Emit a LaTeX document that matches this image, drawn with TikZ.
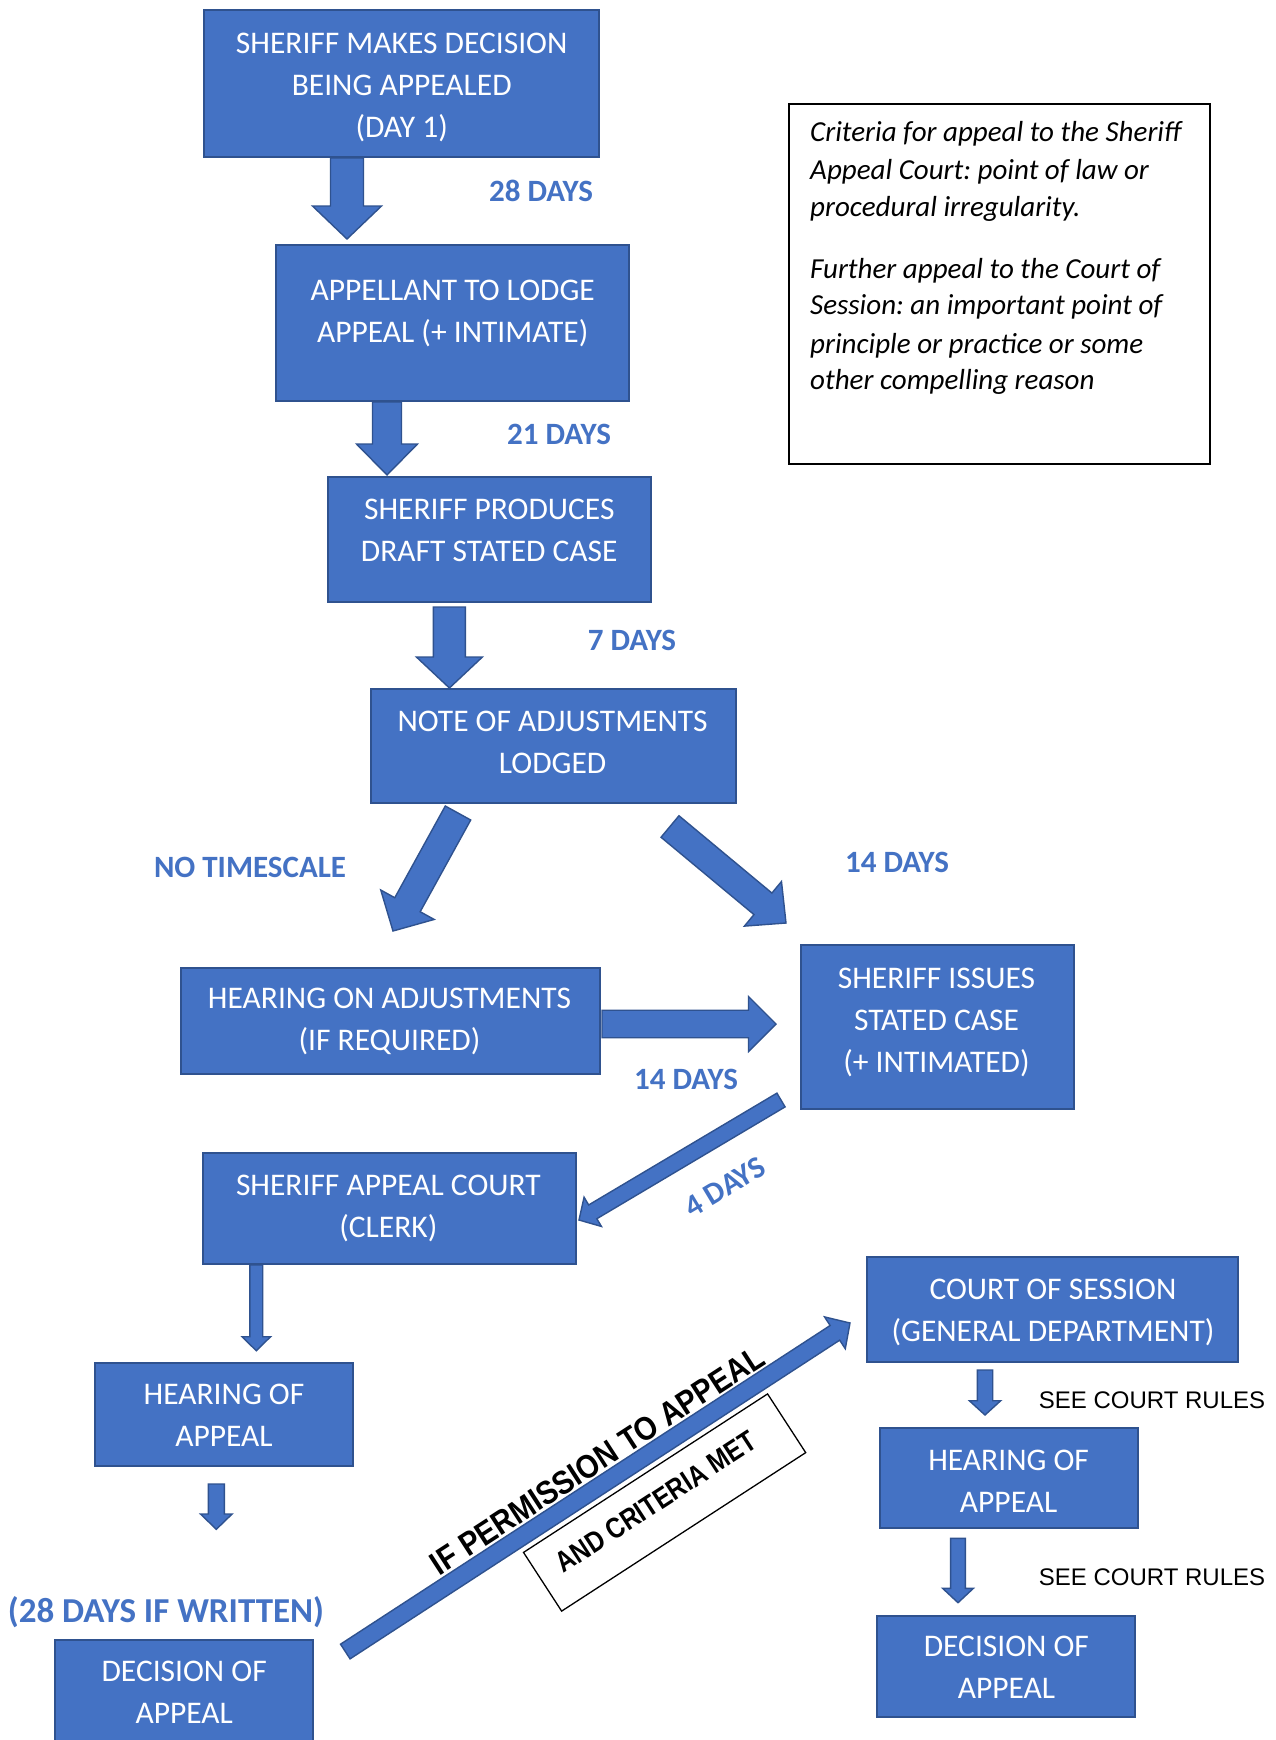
\documentclass[tikz,border=0pt]{standalone}
\usepackage{fontspec}
\setmainfont{Carlito}
\newfontfamily\arialf{Liberation Sans}
\usetikzlibrary{calc}
\frenchspacing
\definecolor{boxblue}{HTML}{4472C4}
\definecolor{edgeblue}{HTML}{2F528F}
\newcommand{\bs}{\rule[-9.8pt]{0pt}{39.8pt}}
\newcommand{\blockarr}[5]{%
  \coordinate (#1h) at ($(#2)!#5!(#1)$);
  \draw[blkarrow] ($(#1)!#3!90:(#2)$) -- ($(#1h)!#3!90:(#2)$) -- ($(#1h)!#4!90:(#2)$) -- (#2) -- ($(#1h)!#4!-90:(#2)$) -- ($(#1h)!#3!-90:(#2)$) -- ($(#1)!#3!-90:(#2)$) -- cycle;}
\tikzset{
  box/.style={draw=edgeblue, fill=boxblue, line width=1.6pt, inner sep=0pt},
  btxt/.style={text=white, align=center, inner sep=0pt, font=\fontsize{31.5}{42}\selectfont},
  lbl/.style={text=boxblue, inner sep=0pt, font=\bfseries\fontsize{31}{37}\selectfont, text height=20pt, text depth=0pt},
  crit/.style={anchor=base west, inner sep=0pt, font=\itshape\fontsize{29}{37}\selectfont},
  rules/.style={inner sep=0pt, font=\arialf\fontsize{24}{28}\selectfont, text height=17.2pt, text depth=0pt},
  blkarrow/.style={draw=edgeblue, fill=boxblue, line width=1.4pt, line join=miter},
  notebox/.style={draw=black, line width=1.6pt, inner sep=0pt},
}
\begin{document}
\begin{tikzpicture}[x=1pt,y=-1pt]
\useasboundingbox (0,0) rectangle (1276,1740);
\clip (0,0) rectangle (1276,1740);
\fill[white] (0,0) rectangle (1276,1740);

% boxes
\node[box, minimum width=395pt, minimum height=147pt] (b1) at (401.5,83.5) {};
\node[box, minimum width=353pt, minimum height=156pt] (b2) at (452.5,323) {};
\node[box, minimum width=323pt, minimum height=125pt] (b3) at (489.5,539.5) {};
\node[box, minimum width=365pt, minimum height=114pt] (b4) at (553.5,746) {};
\node[box, minimum width=419pt, minimum height=106pt] (b5) at (390.5,1021) {};
\node[box, minimum width=273pt, minimum height=164pt] (b6) at (937.5,1027) {};
\node[box, minimum width=373pt, minimum height=111pt] (b7) at (389.5,1208.5) {};
\node[box, minimum width=258pt, minimum height=103pt] (b8) at (224,1414.5) {};
\node[box, minimum width=258pt, minimum height=120pt] (b9) at (184,1700) {};
\node[box, minimum width=371pt, minimum height=105pt] (b10) at (1052.5,1309.5) {};
\node[box, minimum width=258pt, minimum height=100pt] (b11) at (1009,1478) {};
\node[box, minimum width=258pt, minimum height=101pt] (b12) at (1006,1666.5) {};

% box texts
\node[btxt] (t1) at (401.7,85.1) {\bs SHERIFF MAKES DECISION\\ \bs BEING APPEALED\\ \bs (DAY 1)};
\node[btxt] (t2) at (452.7,311.8) {\bs APPELLANT TO LODGE\\ \bs APPEAL (+ INTIMATE)};
\node[btxt] (t3) at (489.3,530.4) {\bs SHERIFF PRODUCES\\ \bs DRAFT STATED CASE};
\node[btxt] (t4) at (552.6,742.3) {\bs NOTE OF ADJUSTMENTS\\ \bs LODGED};
\node[btxt] (t5) at (389.5,1019.7) {\bs HEARING ON ADJUSTMENTS\\ \bs (IF REQUIRED)};
\node[btxt] (t6) at (936.5,1020) {\bs SHERIFF ISSUES\\ \bs STATED CASE\\ \bs (+ INTIMATED)};
\node[btxt] (t7) at (388.4,1206.1) {\bs SHERIFF APPEAL COURT\\ \bs (CLERK)};
\node[btxt] (t8) at (224,1415.8) {\bs HEARING OF\\ \bs APPEAL};
\node[btxt] (t9) at (184.2,1692.1) {\bs DECISION OF\\ \bs APPEAL};
\node[btxt] (t10) at (1053,1309.9) {\bs COURT OF SESSION\\ \bs (GENERAL DEPARTMENT)};
\node[btxt] (t11) at (1008.6,1481.8) {\bs HEARING OF\\ \bs APPEAL};
\node[btxt] (t12) at (1006.4,1667.7) {\bs DECISION OF\\ \bs APPEAL};

% criteria note
\node[notebox, minimum width=421pt, minimum height=360pt] (nb) at (999.5,284) {};
\node[crit] (c1) at (810,141.8) {Criteria for appeal to the Sheriff};
\node[crit] (c2) at (810,179.8) {Appeal Court: point of law or};
\node[crit] (c3) at (810,216.8) {procedural irregularity.};
\node[crit] (c4) at (810,278.8) {Further appeal to the Court of};
\node[crit] (c5) at (810,314.8) {Session: an important point of};
\node[crit] (c6) at (810,353.8) {principle or practice or some};
\node[crit] (c7) at (810,389.8) {other compelling reason};

% arrows
\coordinate (a1t) at (347,157.8);   \coordinate (a1e) at (347,239);
\coordinate (a2t) at (387,402);     \coordinate (a2e) at (387,475);
\coordinate (a3t) at (449.4,607);   \coordinate (a3e) at (449.4,688);
\coordinate (a4t) at (458,813);     \coordinate (a4e) at (393,931);
\coordinate (a5t) at (670,826.5);   \coordinate (a5e) at (786,923);
\coordinate (a6t) at (602,1024);    \coordinate (a6e) at (776,1024);
\coordinate (a7t) at (781,1100);    \coordinate (a7e) at (579,1220);
\coordinate (a8t) at (256.3,1265);  \coordinate (a8e) at (256.3,1350.7);
\coordinate (a9t) at (216.3,1484);  \coordinate (a9e) at (216.3,1529.3);
\coordinate (a10t) at (345.3,1651.5); \coordinate (a10e) at (850,1323);
\coordinate (a11t) at (985,1370);   \coordinate (a11e) at (985,1415);
\coordinate (a12t) at (958,1538.3); \coordinate (a12e) at (958,1602.7);

\blockarr{a1t}{a1e}{16.5pt}{34.5pt}{33pt}
\blockarr{a2t}{a2e}{14.5pt}{30.5pt}{31pt}
\blockarr{a3t}{a3e}{16pt}{33pt}{31pt}
\blockarr{a4t}{a4e}{14.5pt}{30.5pt}{30pt}
\blockarr{a5t}{a5e}{14pt}{29pt}{30pt}
\blockarr{a6t}{a6e}{13.75pt}{27.5pt}{27.5pt}
\blockarr{a7t}{a7e}{8pt}{17pt}{16pt}
\blockarr{a8t}{a8e}{6.4pt}{14.3pt}{14pt}
\blockarr{a9t}{a9e}{8pt}{15.8pt}{15.3pt}
\blockarr{a10t}{a10e}{8.75pt}{19pt}{18pt}
\blockarr{a11t}{a11e}{7.7pt}{15.7pt}{14.3pt}
\blockarr{a12t}{a12e}{7.4pt}{15.3pt}{14.3pt}

% labels
\node[lbl] (l1) at (541,191) {28 DAYS};
\node[lbl] (l2) at (559,434) {21 DAYS};
\node[lbl] (l3) at (632,640) {7 DAYS};
\node[lbl] (l4) at (250,867) {NO TIMESCALE};
\node[lbl] (l5) at (897,862) {14 DAYS};
\node[lbl] (l6) at (686,1079) {14 DAYS};
\node[lbl, rotate=31] (l7) at (725,1187) {4 DAYS};
\node[lbl, font=\bfseries\fontsize{35}{41}\selectfont, text height=22.5pt] (l8) at (166,1611) {(28 DAYS IF WRITTEN)};
\node[rules] (r1) at (1152,1400) {SEE COURT RULES};
\node[rules] (r2) at (1152,1577) {SEE COURT RULES};

% permission text and criteria box
\node[inner sep=0pt, rotate=33, font=\arialf\bfseries\fontsize{33}{38}\selectfont, text height=23.6pt, text depth=0pt] (perm) at (597,1460) {\scalebox{0.88}[1]{IF PERMISSION TO APPEAL}};
\node[draw=black, line width=1.3pt, fill=white, rotate=33, minimum width=291pt, minimum height=70pt, inner sep=0pt] (crit) at (664.6,1502.5) {};
\node[inner sep=0pt, rotate=33, font=\arialf\bfseries\fontsize{29}{34}\selectfont, text height=20.8pt, text depth=0pt] (critt) at (655.5,1501.5) {\scalebox{0.84}[1]{AND CRITERIA MET}};
\end{tikzpicture}
\end{document}
